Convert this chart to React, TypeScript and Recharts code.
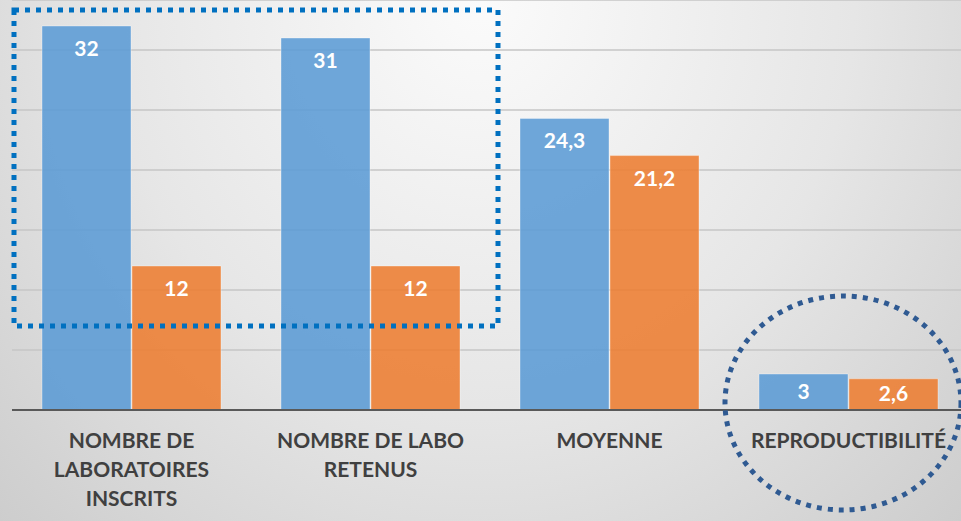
import { Bar, BarChart, CartesianGrid, LabelList, XAxis, YAxis } from "recharts";

const categories = [
  "NOMBRE DE\nLABORATOIRES\nINSCRITS",
  "NOMBRE DE LABO\nRETENUS",
  "MOYENNE",
  "REPRODUCTIBILITÉ",
];
const blueValues = [32, 31, 24.3, 3];
const orangeValues = [12, 12, 21.2, 2.6];
const yTicks = [0, 5, 10, 15, 20, 25, 30];

const data = categories.map((name, i) => ({
  name,
  blue: blueValues[i],
  orange: orangeValues[i],
}));

const FONT = "Lato, 'Open Sans', sans-serif";

function CategoryTick(props: any) {
  const { x, y, payload } = props;
  const lines = String(payload.value).split("\n");
  return (
    <text
      x={x}
      y={y}
      textAnchor="middle"
      fill="#404040"
      fontFamily={FONT}
      fontWeight={700}
      fontSize={21}
    >
      {lines.map((line, i) => (
        <tspan key={i} x={x} y={y + 30 + i * 29}>
          {line}
        </tspan>
      ))}
    </text>
  );
}

function ValueLabel(props: any) {
  const { x, y, width, height, value } = props;
  // short bars: keep the label centred inside the bar
  const baseline = Math.min(y + 30, y + height / 2 + 7);
  return (
    <text
      x={x + width / 2}
      y={baseline}
      textAnchor="middle"
      fill="#ffffff"
      fontFamily={FONT}
      fontWeight={700}
      fontSize={21}
    >
      {String(value).replace(".", ",")}
    </text>
  );
}

export default function App() {
  return (
    <div
      style={{
        position: "absolute",
        left: 0,
        top: 0,
        width: 961,
        height: 521,
        overflow: "hidden",
        background:
          "radial-gradient(ellipse at 50% 0%, #fbfbfb 0%, #e6e6e6 55%, #cdcdcd 100%)",
      }}
    >
      <BarChart
        width={980}
        height={521}
        data={data}
        margin={{ top: 0, right: 12, bottom: 0, left: 12 }}
        barGap={1}
        barCategoryGap={30}
      >
        <CartesianGrid vertical={false} stroke="#c6c6c6" strokeWidth={1.5} />
        <YAxis hide domain={[0, 410 / 12]} ticks={yTicks} />
        <XAxis
          dataKey="name"
          height={111}
          interval={0}
          tickLine={false}
          axisLine={{ stroke: "#595959", strokeWidth: 2 }}
          tick={<CategoryTick />}
        />
        <Bar
          dataKey="blue"
          fill="#5b9bd5"
          fillOpacity={0.88}
          stroke="#ffffff"
          strokeOpacity={0.35}
          isAnimationActive={false}
        >
          <LabelList dataKey="blue" content={<ValueLabel />} />
        </Bar>
        <Bar
          dataKey="orange"
          fill="#ed7d31"
          fillOpacity={0.88}
          stroke="#ffffff"
          strokeOpacity={0.35}
          isAnimationActive={false}
        >
          <LabelList dataKey="orange" content={<ValueLabel />} />
        </Bar>
      </BarChart>
      <svg
        width={961}
        height={521}
        style={{ position: "absolute", left: 0, top: 0, pointerEvents: "none" }}
      >
        <rect
          x={14}
          y={10}
          width={484}
          height={316}
          fill="none"
          stroke="#0070c0"
          strokeWidth={5}
          strokeDasharray="5 6"
        />
        <ellipse
          cx={843}
          cy={403}
          rx={118}
          ry={107}
          fill="none"
          stroke="#2f5a92"
          strokeWidth={5}
          strokeDasharray="5 6"
        />
      </svg>
    </div>
  );
}
